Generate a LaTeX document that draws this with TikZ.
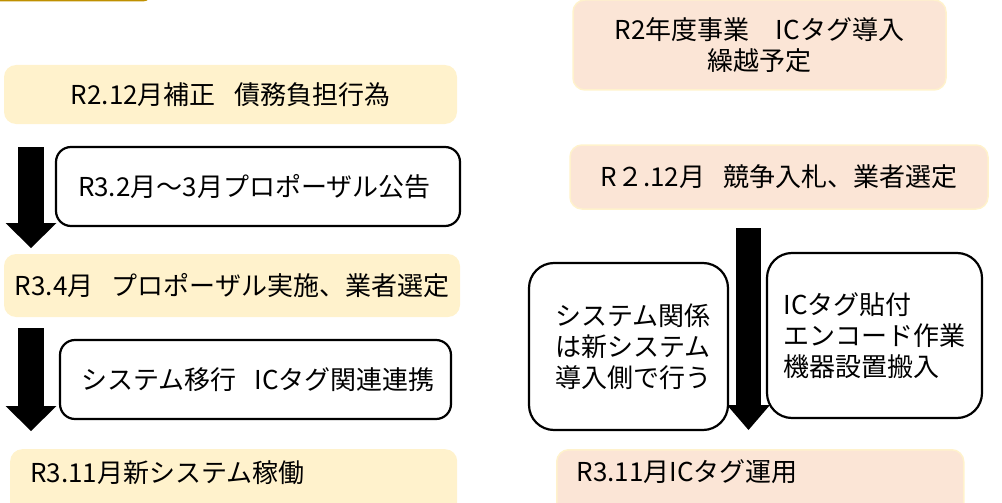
\documentclass[tikz,border=0pt]{standalone}
\usepackage{fontspec}
\setmainfont{Noto Sans CJK JP}
\usetikzlibrary{arrows.meta}

\begin{document}
\begin{tikzpicture}[x=1pt,y=-1pt]
  % Local definitions
  \def\gap{\kern0.7em}

  % Key Colors
  \definecolor{plancolor}  {HTML}{FFF2CC}
  \definecolor{tagcolor}   {HTML}{FBE5D6}
  \definecolor{headcolor}  {HTML}{BF9000}

  % Styles
  \tikzstyle{plan box}=[rounded corners=12pt,fill=plancolor,inner sep=0pt,font=\fontsize{26}{31}\selectfont]
  \tikzstyle{tag box}=[plan box,fill=tagcolor,draw=plancolor,line width=1.5pt]
  \tikzstyle{note box}=[rounded corners=15pt,draw=black,fill=white,line width=2.2pt,inner sep=0pt,font=\fontsize{26}{31}\selectfont]
  \tikzstyle{block arrow}=[line width=26pt,-{Triangle[length=25pt,width=51pt,line width=0pt]}]

  \useasboundingbox (0,0) rectangle (1002,503);
  \clip (0,0) rectangle (1002,503);

  % The heading (cut off at the top)
  \node[draw=headcolor,line width=2.5pt,rounded corners=8pt,minimum width=170pt,minimum height=40pt,anchor=south east] (head) at (152,1.5) {};

  % Left column: new system
  \coordinate (a1s) at (31,147);
  \coordinate (a1e) at (31,248);
  \coordinate (a2s) at (31,328);
  \coordinate (a2e) at (31,431);
  \draw[block arrow] (a1s) -- (a1e);
  \draw[block arrow] (a2s) -- (a2e);

  \node[plan box,minimum width=453pt,minimum height=59pt] (plan1) at (230.5,94.5) {R2.12月補正\gap 債務負担行為};
  \node[note box,minimum height=79pt,text width=360pt,inner xsep=22pt,align=left] (note1) at (258,186.5) {R3.2月〜3月プロポーザル公告};
  \node[plan box,minimum width=456pt,minimum height=63pt] (plan2) at (232,285.5) {R3.4月\gap プロポーザル実施、業者選定};
  \node[note box,minimum height=79pt,text width=349pt,inner xsep=21pt,align=left] (note2) at (255.5,379.5) {システム移行\gap ICタグ関連連携};
  \node[plan box,anchor=north west,text width=407pt,inner xsep=20pt,text height=33pt,text depth=40pt,align=left] (plan3) at (10,449) {R3.11月新システム稼働};

  % Right column: IC tags
  \coordinate (a3s) at (748.5,228);
  \coordinate (a3e) at (748.5,430);
  \draw[block arrow,line width=25pt,-{Triangle[length=25pt,width=43pt,line width=0pt]}] (a3s) -- (a3e);

  \node[tag box,minimum width=373pt,minimum height=90pt,align=center] (tag1) at (759.5,45) {R2年度事業　ICタグ導入\\繰越予定};
  \node[tag box,minimum width=418pt,minimum height=64pt] (tag2) at (779,177) {R２.12月\gap 競争入札、業者選定};
  \node[note box,rounded corners=25pt,minimum width=199pt,minimum height=167pt,text width=147pt,align=left] (note3) at (628.5,346.5) {システム関係\\は新システム\\導入側で行う};
  \node[note box,rounded corners=25pt,minimum width=215pt,minimum height=165pt,align=left] (note4) at (874.5,335.5) {ICタグ貼付\\エンコード作業\\機器設置搬入};
  \node[tag box,anchor=north west,text width=367pt,inner xsep=20pt,text height=32pt,text depth=45pt,align=left] (tag3) at (556,449) {R3.11月ICタグ運用};

\end{tikzpicture}
\end{document}
